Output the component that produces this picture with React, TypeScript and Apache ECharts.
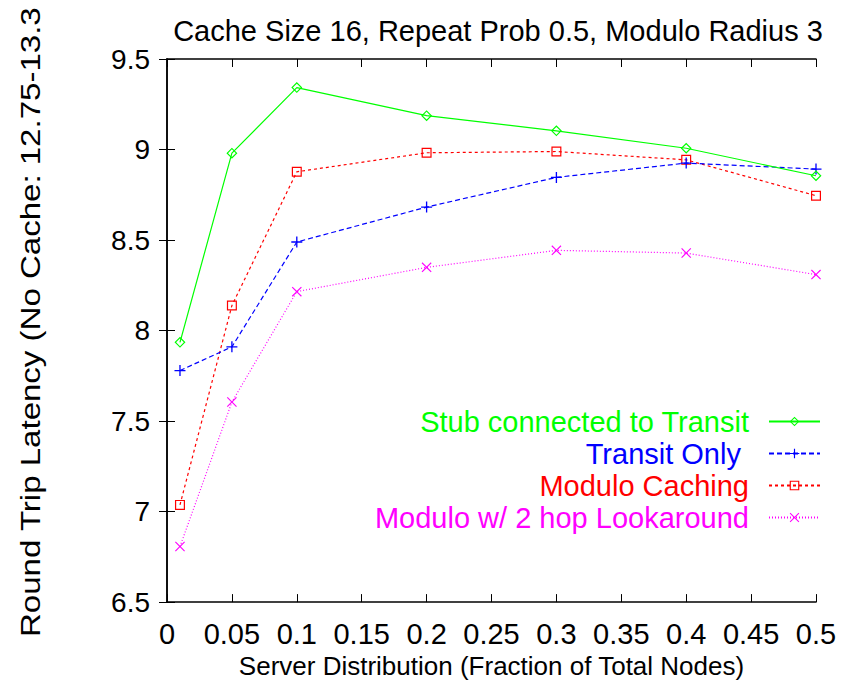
import React, { useEffect, useRef } from "react";
import * as echarts from "echarts";

const titleText = "Cache Size 16, Repeat Prob 0.5, Modulo Radius 3";
const xTitle = "Server Distribution (Fraction of Total Nodes)";
const yTitle = "Round Trip Latency (No Cache: 12.75-13.3";

const xValues = [0.01, 0.05, 0.1, 0.2, 0.3, 0.4, 0.5];
const stubValues = [7.935, 8.98, 9.342, 9.187, 9.103, 9.007, 8.855];
const transitValues = [7.779, 7.91, 8.489, 8.682, 8.846, 8.925, 8.892];
const moduloValues = [7.037, 8.138, 8.877, 8.982, 8.989, 8.943, 8.745];
const lookaroundValues = [6.807, 7.605, 8.215, 8.349, 8.443, 8.428, 8.309];

const seriesNames = [
  "Stub connected to Transit",
  "Transit Only ",
  "Modulo Caching",
  "Modulo w/ 2 hop Lookaround",
];
const seriesColors = ["#00ff00", "#0000ff", "#ff0000", "#ff00ff"];

const SANS = "'Liberation Sans', Arial, Helvetica, sans-serif";
const NARROW = "'Liberation Sans Narrow', 'Arial Narrow', 'Liberation Sans', sans-serif";

const SYM_DIAMOND = "path://M5,0L10,5L5,10L0,5Z M5,1.5L1.5,5L5,8.5L8.5,5Z";
const SYM_PLUS = "path://M4.4,0H5.6V4.4H10V5.6H5.6V10H4.4V5.6H0V4.4H4.4Z";
const SYM_SQUARE = "path://M0,0H10V10H0Z M1.2,1.2V8.8H8.8V1.2Z";
const SYM_CROSS =
  "path://M0,0.8L0.8,0L5,4.2L9.2,0L10,0.8L5.8,5L10,9.2L9.2,10L5,5.8L0.8,10L0,9.2L4.2,5Z";

export default function App() {
  const ref = useRef<HTMLDivElement>(null);
  useEffect(() => {
    document.body.style.margin = "0";
    if (!ref.current) return;
    const chart = echarts.init(ref.current, null, { renderer: "svg" });
    const allValues = [stubValues, transitValues, moduloValues, lookaroundValues];
    const symbols = [SYM_DIAMOND, SYM_PLUS, SYM_SQUARE, SYM_CROSS];
    const symbolSizes = [11, 11, 10, 10];
    const dashTypes: any[] = ["solid", [5, 3], [3, 3], [1, 2]];
    const fmt = (v: number) => String(+v.toFixed(2));
    const axisLineStyle = { color: "#000", width: 1.5 };
    chart.setOption({
      animation: false,
      backgroundColor: "#fff",
      title: {
        text: titleText,
        left: 493,
        top: 11,
        textAlign: "center",
        textStyle: { fontFamily: SANS, fontSize: 29, fontWeight: "normal", color: "#000" },
      },
      grid: { left: 167, right: 32, top: 59, bottom: 81 },
      legend: {
        orient: "vertical",
        align: "right",
        right: 22,
        top: 402,
        itemGap: 3,
        itemWidth: 51,
        itemHeight: 12,
        textStyle: { fontFamily: SANS, fontSize: 29, lineHeight: 29, padding: [0, 15, 0, 0] },
        data: seriesNames.map((n, i) => ({ name: n, textStyle: { color: seriesColors[i] } })),
      },
      xAxis: [
        {
          type: "value",
          min: 0,
          max: 0.5,
          interval: 0.05,
          position: "bottom",
          splitLine: { show: false },
          axisLine: { lineStyle: axisLineStyle },
          axisTick: { inside: true, length: 8, lineStyle: { color: "#000", width: 1 } },
          axisLabel: { formatter: fmt, fontFamily: NARROW, fontSize: 29, color: "#000", margin: 17 },
          name: xTitle,
          nameLocation: "middle",
          nameGap: 47,
          nameTextStyle: { fontFamily: SANS, fontSize: 26, color: "#000" },
        },
        {
          type: "value",
          min: 0,
          max: 0.5,
          interval: 0.05,
          position: "top",
          splitLine: { show: false },
          axisLine: { lineStyle: axisLineStyle },
          axisTick: { inside: true, length: 8, lineStyle: { color: "#000", width: 1 } },
          axisLabel: { show: false },
        },
      ],
      yAxis: [
        {
          type: "value",
          min: 6.5,
          max: 9.5,
          interval: 0.5,
          position: "left",
          splitLine: { show: false },
          axisLine: { show: true, lineStyle: axisLineStyle },
          axisTick: { show: true, inside: true, length: 8, lineStyle: { color: "#000", width: 1 } },
          axisLabel: { formatter: fmt, fontFamily: SANS, fontSize: 28, color: "#000", margin: 17 },
        },
        {
          type: "value",
          min: 6.5,
          max: 9.5,
          interval: 0.5,
          position: "right",
          splitLine: { show: false },
          axisLine: { show: true, lineStyle: axisLineStyle },
          axisTick: { show: true, inside: true, length: 8, lineStyle: { color: "#000", width: 1 } },
          axisLabel: { show: false },
        },
      ],
      graphic: [
        {
          type: "text",
          x: 30,
          y: 637,
          rotation: Math.PI / 2,
          scaleX: 1.18,
          style: {
            text: yTitle,
            fontFamily: SANS,
            fontSize: 28,
            fill: "#000",
            align: "left",
            verticalAlign: "middle",
          },
        },
      ],
      series: seriesNames.map((n, i) => ({
        name: n,
        type: "line",
        xAxisIndex: 0,
        yAxisIndex: 0,
        data: xValues.map((x, j) => [x, allValues[i][j]]),
        symbol: symbols[i],
        symbolSize: symbolSizes[i],
        showAllSymbol: true,
        itemStyle: { color: seriesColors[i] },
        lineStyle: { color: seriesColors[i], width: 1.2, type: dashTypes[i] },
        z: 10 - i,
      })),
    });
    return () => chart.dispose();
  }, []);
  return <div ref={ref} style={{ width: 848, height: 684 }} />;
}
